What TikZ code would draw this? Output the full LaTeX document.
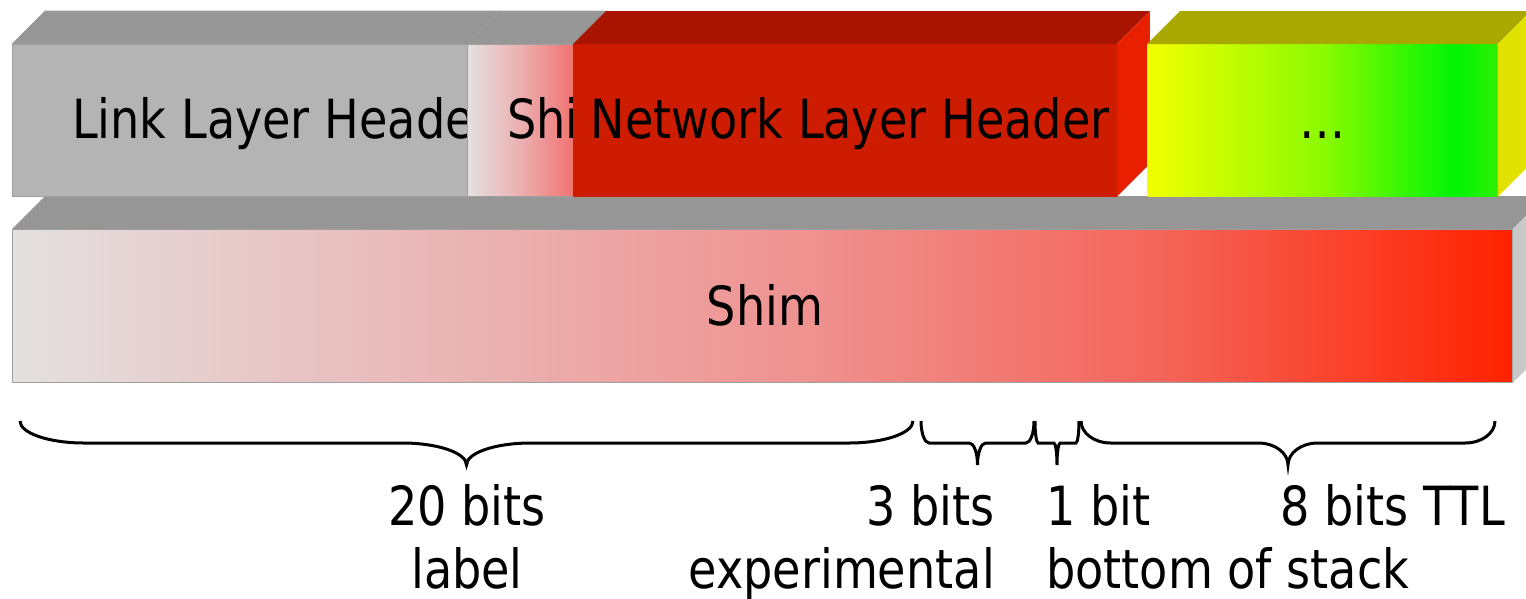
\documentclass[tikz,border=0pt]{standalone}
\usepackage{fontspec}
\setmainfont[FakeStretch=0.95]{DejaVu Sans Condensed}
\usetikzlibrary{calc}

% face colours
\definecolor{linkgray}{HTML}{B4B4B4}
\definecolor{topgray}{HTML}{969696}
\definecolor{sidegray}{HTML}{C8C8C8}
\definecolor{netfront}{HTML}{CD1C00}
\definecolor{nettop}{HTML}{A81400}
\definecolor{netside}{HTML}{E82000}
\definecolor{olivetop}{HTML}{A8A800}
\definecolor{yellside}{HTML}{E2E200}
\definecolor{edgegray}{HTML}{A0A0A0}

% colour ramps across the front faces (path spans 25bp..75bp)
\pgfdeclarehorizontalshading{shimramp}{100bp}{%
  rgb(0bp)=(0.894,0.878,0.878); rgb(25bp)=(0.894,0.878,0.878);
  rgb(40bp)=(0.918,0.706,0.706); rgb(52bp)=(0.937,0.565,0.557);
  rgb(63bp)=(0.957,0.400,0.360); rgb(75bp)=(1,0.133,0);
  rgb(100bp)=(1,0.133,0)}
\pgfdeclarehorizontalshading{smallshimramp}{100bp}{%
  rgb(0bp)=(0.894,0.878,0.878); rgb(25bp)=(0.894,0.878,0.878);
  rgb(50bp)=(0.922,0.690,0.690); rgb(75bp)=(0.945,0.450,0.440);
  rgb(100bp)=(0.945,0.450,0.440)}
\pgfdeclarehorizontalshading{greenramp}{100bp}{%
  rgb(0bp)=(0.95,1,0); rgb(25bp)=(0.95,1,0);
  rgb(50bp)=(0.55,0.98,0); rgb(69bp)=(0,0.96,0.02);
  rgb(75bp)=(0.18,0.94,0); rgb(100bp)=(0.18,0.94,0)}

\tikzset{
  front/.style={draw=edgegray, line width=0.8pt, inner sep=0pt,
    anchor=north west},
  lid/.style={draw=edgegray, line width=0.6pt},
  caption/.style={inner sep=0pt, font=\fontsize{54}{63}\selectfont},
  bracepen/.style={draw=black, line width=3pt},
}

% curly brace opening downwards between two named points
\newcommand\curlybrace[2]{%
  \draw[bracepen] let \p1=(#1), \p2=(#2),
      \n1={0.072*(\x2-\x1)}, \n2={(\x1+\x2)/2} in
    (\p1) .. controls ({\x1},{\y1-12.2pt})
              and ({\x1+0.4477*\n1*1pt},{\y1-22pt}) .. ({\x1+\n1*1pt},{\y1-22pt})
    -- ({(\n2-\n1)*1pt},{\y1-22pt})
    .. controls ({(\n2-0.4477*\n1)*1pt},{\y1-22pt})
              and ({\n2*1pt},{\y1-31.8pt}) .. ({\n2*1pt},{\y1-44pt})
    .. controls ({\n2*1pt},{\y1-31.8pt})
              and ({(\n2+0.4477*\n1)*1pt},{\y1-22pt}) .. ({(\n2+\n1)*1pt},{\y1-22pt})
    -- ({\x2-\n1*1pt},{\y1-22pt})
    .. controls ({\x2-0.4477*\n1*1pt},{\y1-22pt})
              and ({\x2},{\y1-12.2pt}) .. (\p2);
}

\begin{document}
\begin{tikzpicture}[x=1pt, y=-1pt]
\useasboundingbox (0,0) rectangle (1526,598);
\clip (0,0) rectangle (1526,598);

% ---------- lower bar: the shim ----------
\node[front, shading=shimramp, shading angle=0,
      minimum width=1500pt, minimum height=153pt] (bar) at (12,229) {};
\fill[topgray] (bar.north west) -- ++(33,-33) -- ($(bar.north east)+(33,-33)$)
  -- (bar.north east) -- cycle;
\fill[sidegray] (bar.north east) -- ++(33,-33) -- ($(bar.south east)+(33,-33)$)
  -- (bar.south east) -- cycle;
\node[caption] (barlabel) at (765,325) [anchor=base] {Shim};

% ---------- upper row: packet headers ----------
\node[front, fill=linkgray, minimum width=455pt, minimum height=152pt]
  (link) at (12,44) {};
\filldraw[lid, fill=topgray] (link.north west) -- ++(33,-33)
  -- ($(link.north east)+(33,-33)$) -- (link.north east) -- cycle;
\node[caption, anchor=base west] (linklabel) at (72,138) {Link Layer Header};

\node[front, shading=smallshimramp, shading angle=0,
      minimum width=106pt, minimum height=152pt] (shim) at (467,44) {};
\filldraw[lid, fill=topgray] (shim.north west) -- ++(33,-33)
  -- ($(shim.north east)+(33,-33)$) -- (shim.north east) -- cycle;
\node[caption, anchor=base west] (shimlabel) at (507,138) {Shim};

\node[front, fill=netfront, draw=netfront, minimum width=543pt, minimum height=152pt]
  (net) at (573,44) {};
\fill[nettop] (net.north west) -- ++(33,-33)
  -- ($(net.north east)+(33,-33)$) -- (net.north east) -- cycle;
\fill[netside] (net.north east) -- ++(33,-33)
  -- ($(net.south east)+(33,-33)$) -- (net.south east) -- cycle;
\node[caption, anchor=base] (netlabel) at (850,138) {Network Layer Header};

\node[front, shading=greenramp, shading angle=0, draw=none,
      minimum width=350pt, minimum height=152pt] (rest) at (1147,44) {};
\fill[olivetop] (rest.north west) -- ++(33,-33)
  -- ($(rest.north east)+(33,-33)$) -- (rest.north east) -- cycle;
\fill[yellside] (rest.north east) -- ++(33,-33)
  -- ($(rest.south east)+(33,-33)$) -- (rest.south east) -- cycle;
\node[caption, anchor=base] (restlabel) at (1323,138) {…};

% ---------- field widths ----------
\coordinate (labA) at (20,421);   \coordinate (labB) at (913,421);
\coordinate (expA) at (921,421);  \coordinate (expB) at (1034,421);
\coordinate (bosA) at (1035,421); \coordinate (bosB) at (1079,421);
\coordinate (ttlA) at (1081,421); \coordinate (ttlB) at (1495,421);
\curlybrace{labA}{labB}
\curlybrace{expA}{expB}
\curlybrace{bosA}{bosB}
\curlybrace{ttlA}{ttlB}

% two-line captions: the base anchor sits on the last line
\node[caption, anchor=base, align=center] (labtext) at (467,588)
  {20 bits\\label};
\node[caption, anchor=base east, align=right] (exptext) at (995,588)
  {3 bits\\experimental};
\node[caption, anchor=base west, align=left] (bostext) at (1046,588)
  {1 bit\\bottom of stack};
\node[caption, anchor=base east] (ttltext) at (1505,525) {8 bits TTL};
\end{tikzpicture}
\end{document}
